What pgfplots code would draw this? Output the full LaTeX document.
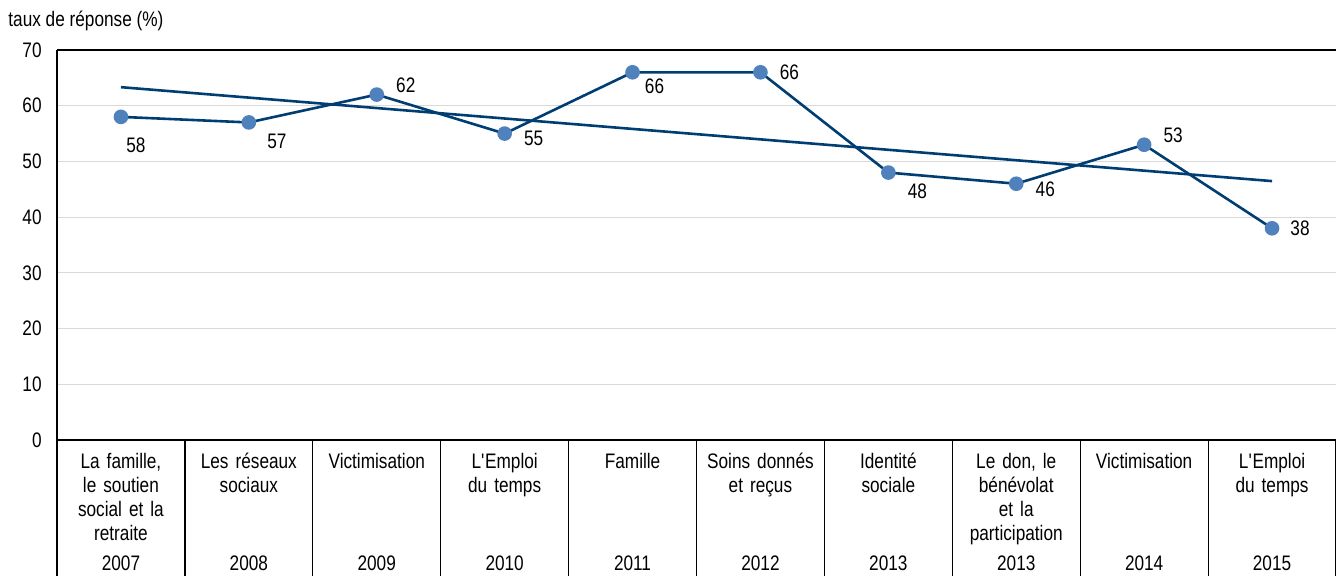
\documentclass[border=0pt]{standalone}
\usepackage{fontspec}
\setmainfont[FakeStretch=0.82]{Liberation Sans}
\usepackage{pgfplots}
\pgfplotsset{compat=1.18}
\definecolor{lineblue}{RGB}{0,61,115}
\definecolor{markblue}{RGB}{79,129,189}
\definecolor{gridgray}{RGB}{217,217,217}
\newcommand{\q}{\textquotesingle}
\begin{document}
\fontsize{10.5pt}{12pt}\selectfont
\begin{tikzpicture}
\useasboundingbox (0,0) rectangle (668pt,287.5pt);
\node[anchor=base west, inner sep=0pt] at (4pt,274.5pt) {taux de réponse (\%)};
\begin{axis}[
  at={(28.5pt,67.5pt)}, anchor=south west,
  scale only axis, width=639.5pt, height=195pt,
  xmin=-0.5, xmax=9.5, ymin=0, ymax=70,
  ytick={0,10,...,70},
  xtick={0,...,9},
  xticklabels={{La famille,\\le soutien\\social et la\\retraite},{Les réseaux\\sociaux},{Victimisation},{L\q Emploi\\du temps},{Famille},{Soins donnés\\et reçus},{Identité\\sociale},{Le don, le\\bénévolat\\et la\\participation},{Victimisation},{L\q Emploi\\du temps}},
  xticklabel style={align=center, text width=70pt, anchor=north, yshift=-3pt, font=\fontsize{10.5pt}{12pt}\selectfont},
  yticklabel style={anchor=east, xshift=-4pt, font=\fontsize{10.5pt}{12pt}\selectfont},
  /pgf/number format/assume math mode=true,
  axis x line*=bottom, axis y line*=left,
  x axis line style={black, line width=0.6pt},
  y axis line style={black, line width=0.6pt},
  major tick length=0pt,
  ymajorgrids, grid style={gridgray, line width=0.6pt},
  clip=false,
]
\draw[black, line width=0.6pt] (rel axis cs:0,1) -- (rel axis cs:1,1);
\pgfplotsinvokeforeach{-0.5,0.5,1.5,2.5,3.5,4.5,5.5,6.5,7.5,8.5,9.5}{
  \draw[black, line width=0.6pt] (axis cs:#1,0) -- ([yshift=-70pt]axis cs:#1,0);
}
\addplot[lineblue, line width=1.3pt] coordinates {(0,63.33) (9,46.47)};
\addplot[lineblue, line width=1.3pt, mark=*, mark size=3pt, mark options={fill=markblue, draw=markblue}]
  coordinates {(0,58) (1,57) (2,62) (3,55) (4,66) (5,66) (6,48) (7,46) (8,53) (9,38)};
\node[xshift=7.5pt, yshift=-14pt] at (axis cs:0,58) {58};
\node[xshift=14pt, yshift=-9.5pt] at (axis cs:1,57) {57};
\node[xshift=14.5pt, yshift=4.5pt] at (axis cs:2,62) {62};
\node[xshift=14.5pt, yshift=-2.5pt] at (axis cs:3,55) {55};
\node[xshift=11pt, yshift=-7pt] at (axis cs:4,66) {66};
\node[xshift=14.5pt, yshift=0pt] at (axis cs:5,66) {66};
\node[xshift=14.5pt, yshift=-9.5pt] at (axis cs:6,48) {48};
\node[xshift=14.5pt, yshift=-3pt] at (axis cs:7,46) {46};
\node[xshift=14.5pt, yshift=4.5pt] at (axis cs:8,53) {53};
\node[xshift=14pt, yshift=0pt] at (axis cs:9,38) {38};
\node[anchor=base, yshift=-65.3pt] at (axis cs:0,0) {2007};
\node[anchor=base, yshift=-65.3pt] at (axis cs:1,0) {2008};
\node[anchor=base, yshift=-65.3pt] at (axis cs:2,0) {2009};
\node[anchor=base, yshift=-65.3pt] at (axis cs:3,0) {2010};
\node[anchor=base, yshift=-65.3pt] at (axis cs:4,0) {2011};
\node[anchor=base, yshift=-65.3pt] at (axis cs:5,0) {2012};
\node[anchor=base, yshift=-65.3pt] at (axis cs:6,0) {2013};
\node[anchor=base, yshift=-65.3pt] at (axis cs:7,0) {2013};
\node[anchor=base, yshift=-65.3pt] at (axis cs:8,0) {2014};
\node[anchor=base, yshift=-65.3pt] at (axis cs:9,0) {2015};
\end{axis}
\end{tikzpicture}
\end{document}
